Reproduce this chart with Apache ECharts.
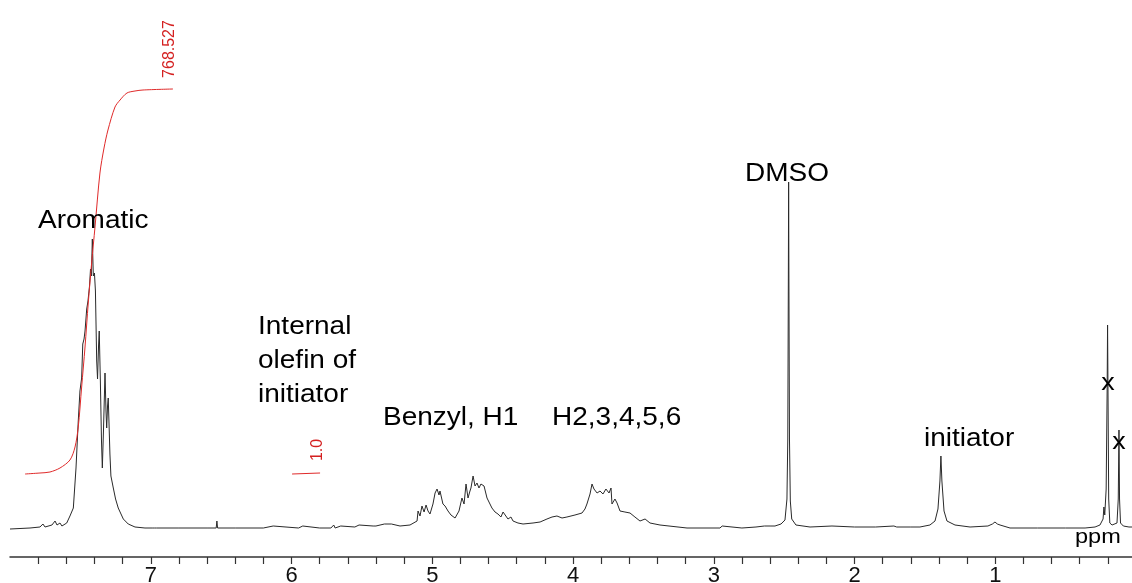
<!DOCTYPE html>
<html>
<head>
<meta charset="utf-8">
<script src="https://cdn.jsdelivr.net/npm/echarts@6/dist/echarts.min.js"></script>
<style>html,body{margin:0;padding:0;background:#fff}#c{width:1132px;height:583px}</style>
</head>
<body>
<div id="c"></div>
<script>
// 1H NMR spectrum: chemical shift (ppm) and intensity (arbitrary units, baseline = 0)
var specPpm = [
 8.000,7.858,7.787,7.766,7.751,7.702,7.680,7.666,7.645,7.631,7.597,7.574,7.550,7.531,7.515,7.503,7.491,7.483,7.474,7.467,
 7.455,7.446,7.435,7.428,7.422,7.415,7.408,7.400,7.393,7.384,7.378,7.371,7.366,7.358,7.350,7.344,7.336,7.325,7.318,7.313,
 7.307,7.302,7.297,7.290,7.283,7.266,7.250,7.231,7.195,7.160,7.112,7.041,
 6.990,6.985,6.975,6.970,6.960,6.800,6.600,6.535,6.530,6.525,6.400,6.200,6.130,6.120,5.950,5.920,5.910,5.800,
 5.720,5.700,5.690,5.650,5.640,5.550,5.520,5.510,5.420,5.410,5.400,5.340,5.330,5.290,5.280,
 5.229,5.158,5.108,5.101,5.087,5.073,5.058,5.044,5.030,5.016,4.995,4.980,4.966,4.952,4.945,4.924,4.909,4.888,4.867,4.838,
 4.824,4.810,4.789,4.774,4.760,4.746,4.732,4.725,4.710,4.696,4.682,4.668,4.654,4.632,4.611,4.590,4.576,4.554,4.533,4.512,
 4.497,4.483,4.462,4.441,4.426,4.391,4.355,4.284,4.234,4.185,4.149,4.114,4.078,4.043,3.986,3.936,3.915,3.901,3.879,3.865,
 3.851,3.829,3.808,3.787,3.766,3.744,3.730,3.723,3.702,3.687,3.666,3.631,3.595,3.560,3.524,3.488,3.453,3.382,3.190,2.956,
 2.940,2.930,2.800,2.700,2.640,2.600,2.565,2.522,2.494,2.480,2.474,2.470,2.468,2.466,2.462,2.456,2.446,2.416,2.316,
 2.160,2.150,2.000,1.850,1.720,1.700,1.600,1.535,1.464,1.428,1.407,1.393,1.386,1.379,1.364,1.343,1.286,1.179,
 1.052,1.020,1.002,0.985,0.966,0.895,0.700,0.500,0.362,0.291,0.256,0.234,0.228,0.222,0.212,0.205,0.202,0.199,0.194,
 0.186,0.170,0.135,0.126,0.121,0.117,0.110,0.090,0.050,0.020
];
var specInt = [
 0,1,2,5,2,4,8,4,6,3,6,13,21,61,108,138,151,185,190,198,
 220,228,243,260,253,290,253,256,238,168,150,183,198,148,88,61,98,156,118,101,
 123,131,108,75,53,41,30,21,10,5,2,1,
 1,3,1,3,1,1,1,1,8,1,1,1,3,1,1,3,1,1,
 1,4,1,3,2,2,4,2,3,5,3,5,3,5,4,
 3,4,8,18,13,23,17,24,18,15,25,36,40,34,38,25,23,18,14,11,
 13,18,31,25,45,31,38,41,53,43,46,41,45,43,31,25,21,17,15,12,
 17,15,10,12,8,6,5,6,7,10,12,13,11,12,14,16,20,25,35,45,
 40,36,38,35,40,36,41,25,30,26,18,17,16,12,8,10,6,4,1,1,
 3,1,1,2,3,3,3,5,9,30,90,250,347,250,90,28,10,4,2,
 3,2,2,2,3,2,2,2,4,8,20,48,73,48,18,8,4,2,
 3,5,7,5,4,1,1,1,1,2,4,10,22,14,40,140,204,140,30,
 6,4,6,30,99,30,6,3,2,2
];
// integral curves (ppm, integral trace height)
var int1Ppm = [7.893,7.787,7.716,7.645,7.574,7.538,7.515,7.491,7.467,7.444,7.420,7.396,7.361,7.332,7.304,7.254,7.218,7.169,7.112,7.055,6.842];
var int1Val = [55,56,57,61,69,82,102,142,182,226,266,302,356,381,399,422,429,436,438,439,440];
var int2Ppm = [5.996,5.797];
var int2Val = [55,56];
var integralLabels = ['768.527','1.0'];
var xTickLabels = [1,2,3,4,5,6,7];
var xTickValues = [0.2,0.4,0.6,0.8,1.0,1.2,1.4,1.6,1.8,2.0,2.2,2.4,2.6,2.8,3.0,3.2,3.4,3.6,3.8,4.0,
                   4.2,4.4,4.6,4.8,5.0,5.2,5.4,5.6,5.8,6.0,6.2,6.4,6.6,6.8,7.0,7.2,7.4,7.6,7.8];

function zip(a,b){var r=[];for(var i=0;i<a.length;i++)r.push([a[i],b[i]]);return r;}

var chart = echarts.init(document.getElementById('c'), null, {renderer:'canvas'});
var FONT = '"Liberation Sans", Arial, sans-serif';
function txt(t,x,y,size,opts){
  opts = opts||{};
  return {type:'text', x:x, y:y, scaleX: opts.sx||1.12, rotation: opts.rot||0, z:10,
    style:{text:t, fill: opts.color||'#000', font: size+'px '+FONT,
      align: opts.align||'left', verticalAlign:'middle'}};
}
chart.setOption({
  animation:false,
  backgroundColor:'#fff',
  grid:{left:10,right:-4,top:0,bottom:26,outerBoundsMode:'none',containLabel:false},
  xAxis:{type:'value',min:0,max:8,inverse:true,interval:0.2,
    axisLine:{onZero:false,lineStyle:{color:'#333',width:1.5}},
    axisTick:{show:true,length:7,customValues:xTickValues,lineStyle:{color:'#333',width:1.2}},
    axisLabel:{margin:8,fontSize:22,color:'#111',fontFamily:FONT,customValues:xTickLabels,
      formatter:function(v){return String(Math.round(v));}},
    splitLine:{show:false}},
  yAxis:{type:'value',min:-28,max:529,show:false,splitLine:{show:false}},
  series:[
    {type:'line',data:zip(specPpm,specInt),symbol:'none',lineStyle:{color:'#2a2a2a',width:1},z:2},
    {type:'line',data:zip(int1Ppm,int1Val),symbol:'none',smooth:0.3,lineStyle:{color:'#e02a2a',width:1},z:3},
    {type:'line',data:zip(int2Ppm,int2Val),symbol:'none',lineStyle:{color:'#e02a2a',width:1},z:3}
  ],
  graphic:[
    txt('Aromatic',38,221,25),
    txt('DMSO',745,174,25),
    txt('Internal',258,327,25),
    txt('olefin of',258,361,25),
    txt('initiator',258,395,25),
    txt('Benzyl, H1',383,418,25),
    txt('H2,3,4,5,6',552,418,25),
    txt('initiator',924,439,25),
    txt('x',1108,383,24,{align:'center'}),
    txt('x',1119,442,24,{align:'center'}),
    txt('ppm',1075,537,21),
    txt(integralLabels[0],170,49,16,{rot:Math.PI/2,sx:1,align:'center',color:'#d42020'}),
    txt(integralLabels[1],318,450,16,{rot:Math.PI/2,sx:1,align:'center',color:'#d42020'})
  ]
});
</script>
</body>
</html>
